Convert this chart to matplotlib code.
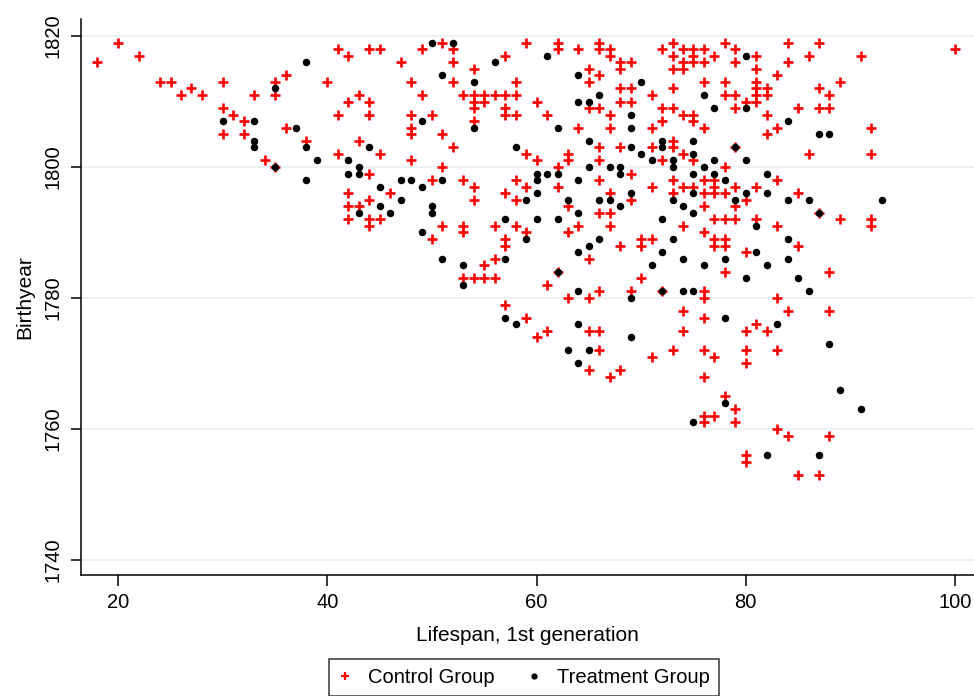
import matplotlib
matplotlib.use("Agg")
import matplotlib.pyplot as plt
from matplotlib.lines import Line2D

plt.rcParams['font.family'] = ['Liberation Sans', 'DejaVu Sans']

# Control group: lifespan of the 1st generation and birth year
control_lifespan = [
    18, 20, 22, 24, 25, 26, 27, 28, 30, 30, 31, 32, 30, 32, 33, 35, 35, 36, 36, 34,
    35, 38, 40, 41, 42, 44, 45, 42, 43, 44, 41, 44, 43, 45, 41, 44,
    49, 51, 52, 47, 52, 52, 48, 49, 48, 50, 48, 48, 51, 48, 52, 51, 54, 57, 53, 54,
    55, 56, 57, 58, 58, 54, 55, 54, 57, 57, 58, 54, 59, 62, 62, 60, 61, 64, 66, 66,
    67, 67, 68, 69, 68, 72, 65, 66, 65, 68, 69, 71, 68, 69, 65, 66, 72, 67, 72, 64,
    67, 71, 66, 68, 71, 63, 63, 59, 60, 66, 72, 62, 69, 50, 53, 58, 66,
    54, 59, 62, 71, 46, 67, 57, 44, 54, 58, 69, 63, 66, 67, 44, 45, 51, 53, 56, 58,
    64, 67, 53, 59, 63, 50, 57, 57, 68, 70, 71, 70, 56, 65, 55, 62, 53, 54, 55, 56,
    61, 70, 66, 69, 72, 63, 65, 57, 59, 61, 65, 66,
    42, 42, 43, 42, 44,
    60, 66, 71, 73, 65, 67, 68,
    73, 74, 75, 76, 73, 75, 74, 75, 76, 77, 78, 79, 79, 81, 73, 74, 81, 84, 87, 84,
    86, 91, 100, 83, 76, 78, 81, 89, 73, 81, 82, 87, 78, 79, 81, 82, 88, 80, 81, 73,
    79, 85, 87, 88, 74, 75, 82, 75, 76, 83, 92, 82, 73, 73, 79, 74, 86, 92, 75, 78,
    73, 76, 77, 83,
    73, 74, 75, 76, 77, 77, 78, 79, 81, 85, 80, 76, 79, 87, 77, 78, 79, 81, 83, 89,
    92, 92, 74, 76, 77, 78, 77, 78, 85, 80, 78, 88, 76, 76, 83, 74, 84, 88, 76, 74,
    81, 80, 82,
    76, 77, 80, 83, 80, 76, 78, 79, 76, 77, 79, 76, 83, 84, 88, 80, 80, 85, 87,
]
control_birthyear = [
    1816, 1819, 1817, 1813, 1813, 1811, 1812, 1811, 1813, 1809, 1808, 1807, 1805, 1805, 1811, 1813, 1811, 1814, 1806, 1801,
    1800, 1804, 1813, 1818, 1817, 1818, 1818, 1810, 1811, 1810, 1808, 1808, 1804, 1802, 1802, 1799,
    1818, 1819, 1818, 1816, 1816, 1813, 1813, 1811, 1808, 1808, 1806, 1805, 1805, 1801, 1803, 1800, 1815, 1817, 1811, 1811,
    1811, 1811, 1811, 1811, 1813, 1810, 1810, 1809, 1809, 1808, 1808, 1807, 1819, 1819, 1818, 1810, 1808, 1818, 1819, 1818,
    1818, 1817, 1816, 1816, 1815, 1818, 1815, 1814, 1813, 1812, 1812, 1811, 1810, 1810, 1809, 1809, 1809, 1808, 1807, 1806,
    1806, 1806, 1803, 1803, 1803, 1802, 1801, 1802, 1801, 1801, 1801, 1800, 1799, 1798, 1798, 1798, 1798,
    1797, 1797, 1797, 1797, 1796, 1796, 1796, 1795, 1795, 1795, 1795, 1794, 1793, 1793, 1792, 1792, 1791, 1791, 1791, 1791,
    1791, 1791, 1790, 1790, 1790, 1789, 1789, 1788, 1788, 1789, 1789, 1788, 1786, 1786, 1785, 1784, 1783, 1783, 1783, 1783,
    1782, 1783, 1781, 1781, 1781, 1780, 1780, 1779, 1777, 1775, 1775, 1775,
    1796, 1794, 1794, 1792, 1791,
    1774, 1772, 1771, 1772, 1769, 1768, 1769,
    1819, 1818, 1818, 1818, 1817, 1817, 1816, 1816, 1816, 1817, 1819, 1818, 1816, 1817, 1815, 1815, 1815, 1819, 1819, 1816,
    1817, 1817, 1818, 1814, 1813, 1813, 1813, 1813, 1812, 1812, 1812, 1812, 1811, 1811, 1811, 1811, 1811, 1810, 1810, 1809,
    1809, 1809, 1809, 1809, 1808, 1808, 1808, 1807, 1806, 1806, 1806, 1805, 1804, 1803, 1803, 1802, 1802, 1802, 1801, 1800,
    1798, 1798, 1798, 1798,
    1796, 1797, 1797, 1796, 1797, 1796, 1796, 1797, 1797, 1796, 1795, 1794, 1794, 1793, 1792, 1792, 1792, 1792, 1791, 1792,
    1792, 1791, 1791, 1790, 1789, 1789, 1788, 1788, 1788, 1787, 1784, 1784, 1781, 1780, 1780, 1778, 1778, 1778, 1777, 1775,
    1776, 1775, 1775,
    1772, 1771, 1772, 1772, 1770, 1768, 1765, 1763, 1762, 1762, 1761, 1761, 1760, 1759, 1759, 1756, 1755, 1753, 1753,
]

# Treatment group
treatment_lifespan = [
    30, 33, 33, 33, 35, 37, 35, 38, 38, 39, 38, 44, 42, 43, 42, 43,
    50, 52, 51, 54, 56, 49, 54, 61, 62, 64, 70, 66, 64, 65, 69, 69, 65, 69, 72, 72,
    70, 58, 71, 65, 67, 68, 68, 47, 48, 51, 60, 60, 61, 62, 64,
    45, 45, 43,
    49, 60, 69, 47, 59, 63, 66, 67, 50, 68, 46, 50, 64, 57, 60, 62, 72, 49, 59, 66,
    65, 64, 72, 51, 57, 53, 71, 62, 53, 64, 69, 72, 57, 58, 64,
    69, 63, 65, 64,
    80, 76, 77, 80, 84, 87, 88, 75, 79, 75, 73, 77, 80, 73, 76, 75, 77, 82, 78,
    80, 82, 73, 75, 79, 84, 86, 93, 74, 75, 87, 81, 73, 84, 74, 78, 81, 84, 76, 82,
    80, 85, 74, 75, 86, 78, 83,
    88, 89, 78, 91, 75, 82, 87,
]
treatment_birthyear = [
    1807, 1807, 1804, 1803, 1812, 1806, 1800, 1816, 1803, 1801, 1798, 1803, 1801, 1800, 1799, 1799,
    1819, 1819, 1814, 1813, 1816, 1807, 1806, 1817, 1806, 1814, 1813, 1811, 1810, 1810, 1808, 1806, 1804, 1803, 1804, 1803,
    1802, 1803, 1801, 1800, 1800, 1800, 1799, 1798, 1798, 1798, 1799, 1798, 1799, 1799, 1798,
    1797, 1794, 1793,
    1797, 1796, 1796, 1795, 1795, 1795, 1795, 1795, 1794, 1794, 1793, 1793, 1793, 1792, 1792, 1792, 1792, 1790, 1789, 1789,
    1788, 1787, 1787, 1786, 1786, 1785, 1785, 1784, 1782, 1781, 1780, 1781, 1777, 1776, 1776,
    1774, 1772, 1772, 1770,
    1817, 1811, 1809, 1809, 1807, 1805, 1805, 1804, 1803, 1802, 1801, 1801, 1801, 1800, 1800, 1799, 1799, 1799, 1798,
    1796, 1796, 1795, 1796, 1795, 1795, 1795, 1795, 1794, 1793, 1793, 1791, 1789, 1789, 1786, 1786, 1787, 1786, 1785, 1785,
    1783, 1783, 1781, 1781, 1781, 1777, 1776,
    1773, 1766, 1764, 1763, 1761, 1756, 1756,
]

x_ticks = [20, 40, 60, 80, 100]
y_ticks = [1740, 1760, 1780, 1800, 1820]

fig = plt.figure(figsize=(9.74, 6.96), dpi=100)
ax = fig.add_axes([81 / 974, 1 - 575 / 696, 893 / 974, 556 / 696])

# horizontal grid only
for yt in y_ticks:
    ax.axhline(yt, color='#eaf2f3', linewidth=1.5, zorder=0)

ax.plot(control_lifespan, control_birthyear, linestyle='none', marker='+',
        color='#ff0000', markersize=7.5, markeredgewidth=1.9, zorder=2)
ax.plot(treatment_lifespan, treatment_birthyear, linestyle='none', marker='o',
        color='black', markersize=5.4, markeredgewidth=0, zorder=3)

ax.set_xlim(16.44, 101.82)
ax.set_ylim(1737.7, 1822.6)
ax.set_xticks(x_ticks)
ax.set_yticks(y_ticks)
ax.tick_params(axis='x', length=8, width=1.1, labelsize=14.5, pad=5)
ax.tick_params(axis='y', length=7, width=1.1, labelsize=14.5, pad=6)
for lbl in ax.get_yticklabels():
    lbl.set_rotation(90)
    lbl.set_va('center')

for side in ['top', 'right']:
    ax.spines[side].set_visible(False)
for side in ['left', 'bottom']:
    ax.spines[side].set_linewidth(1.1)

ax.set_xlabel('Lifespan, 1st generation', fontsize=15, labelpad=10)
ax.set_ylabel('Birthyear', fontsize=15, labelpad=7)

handles = [
    Line2D([], [], linestyle='none', marker='+', color='#ff0000', markersize=6, markeredgewidth=1.6),
    Line2D([], [], linestyle='none', marker='o', color='black', markersize=4.5, markeredgewidth=0),
]
leg = fig.legend(handles, ['Control Group', 'Treatment Group'], loc='upper center',
                 bbox_to_anchor=(524 / 974, 1 - 659 / 696), borderaxespad=0, ncol=2,
                 fontsize=14.5, frameon=True, fancybox=False, edgecolor='black',
                 handlelength=0.7, handletextpad=0.8, columnspacing=1.6, borderpad=0.45)
leg.get_frame().set_linewidth(1.1)

fig.savefig('out.png', dpi=100)
